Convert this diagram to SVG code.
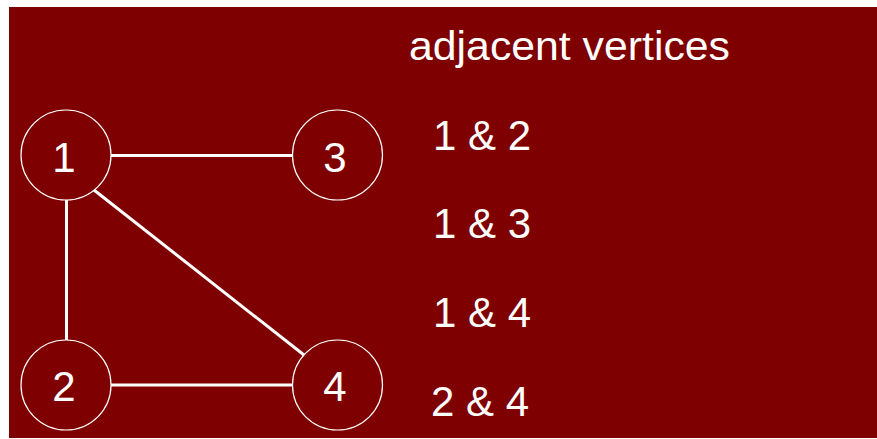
<svg xmlns="http://www.w3.org/2000/svg" width="877" height="439" viewBox="0 0 877 439">
<style>
.node circle{fill:none;stroke:#ffffff;stroke-width:1.2}
.node text{fill:#ffffff;font-family:"Liberation Sans",Arial,sans-serif;font-size:42px;text-anchor:middle}
.edges line{stroke:#ffffff;stroke-width:3}
.lbl{fill:#ffffff;font-family:"Liberation Sans",Arial,sans-serif;font-size:42px}
.title{fill:#ffffff;font-family:"Liberation Sans",Arial,sans-serif;font-size:40px}
</style>
<rect x="0" y="0" width="877" height="439" fill="#ffffff"/>
<rect x="9" y="7" width="868" height="431" fill="#7f0000"/>
<g class="edges">
<line x1="111" y1="155.5" x2="293" y2="155.5"/>
<line x1="66.5" y1="200" x2="66.5" y2="340"/>
<line x1="111" y1="385" x2="293" y2="385"/>
<line x1="94" y1="190" x2="304" y2="355"/>
</g>
<g id="node1" class="node"><circle cx="66" cy="155" r="45"/><text x="64" y="171.5">1</text></g>
<g id="node3" class="node"><circle cx="337.5" cy="155" r="45"/><text x="335" y="171.5">3</text></g>
<g id="node2" class="node"><circle cx="66" cy="385" r="45"/><text x="64" y="401">2</text></g>
<g id="node4" class="node"><circle cx="337.5" cy="385" r="45"/><text x="335" y="401">4</text></g>
<text class="title" x="409" y="60" textLength="321" lengthAdjust="spacingAndGlyphs">adjacent vertices</text>
<text class="lbl" x="433" y="150">1 &amp; 2</text>
<text class="lbl" x="433" y="238">1 &amp; 3</text>
<text class="lbl" x="433" y="327">1 &amp; 4</text>
<text class="lbl" x="431" y="416">2 &amp; 4</text>
</svg>
